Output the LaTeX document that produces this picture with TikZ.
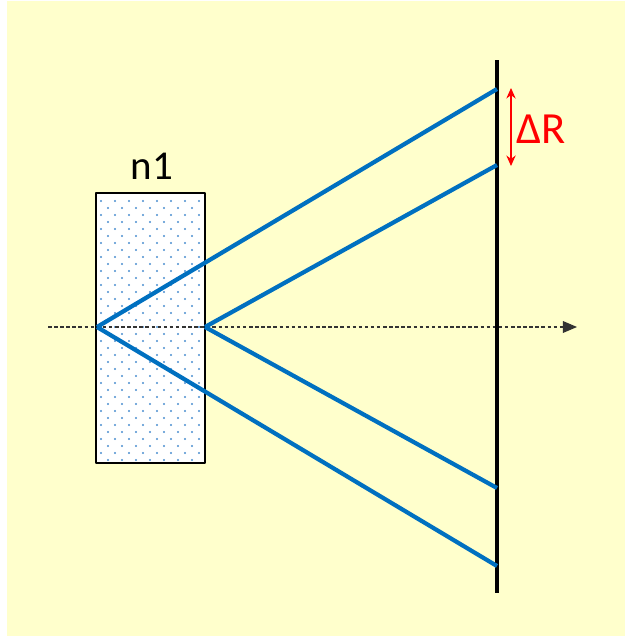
\documentclass[tikz,border=0pt]{standalone}
\usepackage{fontspec}
\setmainfont{Carlito}
\usetikzlibrary{arrows.meta}
\definecolor{paper}{HTML}{FFFFCC}
\definecolor{raycol}{HTML}{0070C0}
\definecolor{dotblue}{HTML}{4A8FD0}
\begin{document}
\begin{tikzpicture}[x=0.03cm, y=-0.03cm, line join=round,
	raybeam/.style={raycol, line width=3.6pt},
	dotmark/.style={fill=dotblue}]

	\useasboundingbox (0,0) rectangle (626,639);
	\fill[paper] (7,1) rectangle (625,636);

	% --- glass block ---
	\coordinate (B1) at (96,193);
	\coordinate (B2) at (205,463);
	\fill[white] (B1) rectangle (B2);
	\begin{scope}
		\clip (B1) rectangle (B2);
		\foreach \j in {0,...,37} {
			\foreach \i in {0,...,8} {
				\fill[dotmark] ({101+14*\i+7*mod(\j,2)}, {201+7*\j}) circle (1.1);
			}
		}
	\end{scope}
	\draw[line width=1.5pt] (B1) rectangle (B2);
	\node[font=\fontsize{35}{38}\selectfont] (n) at (152,166) {n1};

	% --- axis ---
	\coordinate (A0) at (48,327);
	\coordinate (A1) at (577,327);
	\draw[-{Triangle[length=12pt,width=10pt]}, dash pattern=on 3pt off 2.2pt, black!80, line width=0.9pt] (A0) -- (A1);

	% --- screen ---
	\coordinate (S0) at (497,60);
	\coordinate (S1) at (497,593);
	\draw[line width=2.8pt] (S0) -- (S1);

	% --- rays ---
	\coordinate (P) at (97,327);
	\coordinate (Q) at (205,327);
	\coordinate (R1) at (497,89);
	\coordinate (R2) at (497,165);
	\coordinate (R3) at (497,488);
	\coordinate (R4) at (497,566);
	\draw[raybeam] (P) -- (R1);
	\draw[raybeam] (P) -- (R4);
	\draw[raybeam] (Q) -- (R2);
	\draw[raybeam] (Q) -- (R3);

	% --- Delta R ---
	\coordinate (D0) at (511,88);
	\coordinate (D1) at (511,166);
	\draw[{Stealth[length=9pt,width=8pt]}-{Stealth[length=9pt,width=8pt]}, red, line width=1pt] (D0) -- (D1);
	\node[red, font=\fontsize{38}{40}\selectfont] (dR) at (541,129) {ΔR};

\end{tikzpicture}
\end{document}
